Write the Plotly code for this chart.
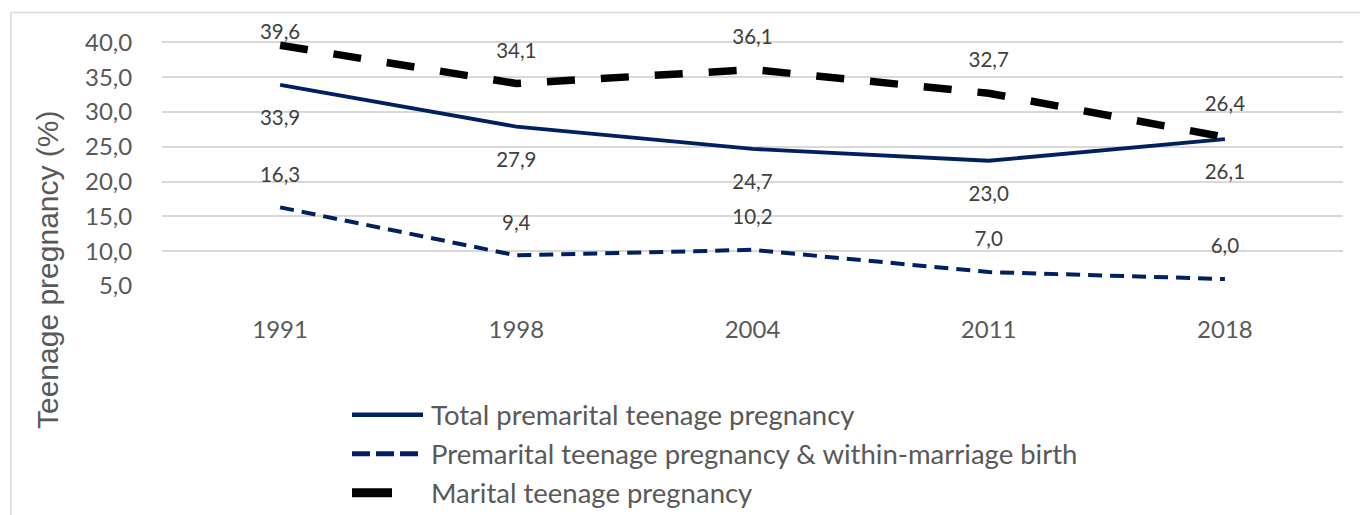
import plotly.graph_objects as go

years = ["1991", "1998", "2004", "2011", "2018"]
total_premarital = [33.9, 27.9, 24.7, 23.0, 26.1]
premarital_within = [16.3, 9.4, 10.2, 7.0, 6.0]
marital = [39.6, 34.1, 36.1, 32.7, 26.4]
y_ticks = [5, 10, 15, 20, 25, 30, 35, 40]

names = ["Total premarital teenage pregnancy",
         "Premarital teenage pregnancy & within-marriage birth",
         "Marital teenage pregnancy"]

NAVY = "#002060"
FONT = "Lato"

# plot area in pixels (gridline 40 at y=42, gridline 5 at y=286)
PX_PER_UNIT = 244 / 35.0
Y_MAX = 41.5  # a little headroom above the 40 gridline for the top data label
L, R, B = 162, 1343, 286
T = B - (Y_MAX - 5) * PX_PER_UNIT
W, H = R - L, B - T

def px_x(p):
    return (p - L) / W

def px_y(p):
    return (B - p) / H

styles = [
    dict(color=NAVY, width=3.8, dash="solid"),
    dict(color=NAVY, width=4, dash="14px,8px"),
    dict(color="black", width=7.5, dash="28px,26px"),
]
series_list = [total_premarital, premarital_within, marital]

fig = go.Figure()
for name, ys, st in zip(names, series_list, styles):
    fig.add_trace(go.Scatter(x=years, y=ys, mode="lines", name=name, line=st,
                             showlegend=False, hoverinfo="x+y+name"))

def fmt(v):
    return f"{v:.1f}".replace(".", ",")

label_specs = [(total_premarital, False), (premarital_within, True), (marital, True)]
for ys, above in label_specs:
    if above:
        yl = [min(v + 31 / PX_PER_UNIT, 40 + 9 / PX_PER_UNIT) for v in ys]
    else:
        yl = [v - 35 / PX_PER_UNIT for v in ys]
    fig.add_trace(go.Scatter(x=years, y=yl, mode="text", text=[fmt(v) for v in ys],
                             textposition="middle center", cliponaxis=False, showlegend=False,
                             hoverinfo="skip",
                             textfont=dict(family=FONT, size=20.5, color="#404040")))

annotations = [dict(x=px_x(47), y=px_y(270), xref="paper", yref="paper",
                    xanchor="center", yanchor="middle",
                    text="Teenage pregnancy (%)", textangle=-90, showarrow=False,
                    font=dict(family="Liberation Sans", size=30, color="#595959"))]

shapes = [dict(type="rect", xref="paper", yref="paper",
               x0=px_x(11), x1=px_x(1375), y0=px_y(540), y1=px_y(12),
               line=dict(color="#D9D9D9", width=1.5), fillcolor="rgba(0,0,0,0)", layer="below")]

# custom legend (long line samples as in the original)
legend_rows = [415, 454, 493]
sample_ends = [423, 421, 392]
sample_styles = [
    dict(color=NAVY, width=4.5, dash="solid"),
    dict(color=NAVY, width=5, dash="18px,6px"),
    dict(color="black", width=9, dash="solid"),
]
for name, yrow, xend, st in zip(names, legend_rows, sample_ends, sample_styles):
    shapes.append(dict(type="line", xref="paper", yref="paper",
                       x0=px_x(352), x1=px_x(xend), y0=px_y(yrow), y1=px_y(yrow), line=st))
    annotations.append(dict(x=px_x(429), y=px_y(yrow), xref="paper", yref="paper",
                            xanchor="left", yanchor="middle", text=name, showarrow=False,
                            font=dict(family=FONT, size=27.5, color="#595959")))

fig.update_layout(
    width=1360, height=515,
    margin=dict(l=L, r=1360 - R, t=T, b=515 - B, autoexpand=False),
    paper_bgcolor="white", plot_bgcolor="white",
    separators=",.",
    showlegend=False,
    annotations=annotations,
    shapes=shapes,
)
fig.update_xaxes(type="category", range=[-0.5, 4.5], showgrid=False, zeroline=False,
                 showline=False, ticks="outside", ticklen=22, tickcolor="rgba(0,0,0,0)",
                 tickfont=dict(family=FONT, size=24, color="#595959"))
fig.update_yaxes(range=[5, Y_MAX], tickvals=y_ticks, tickformat=".1f", showgrid=True,
                 gridcolor="#D9D9D9", gridwidth=1.5, zeroline=False, showline=False,
                 ticks="outside", ticklen=24, tickcolor="rgba(0,0,0,0)",
                 tickfont=dict(family=FONT, size=24, color="#595959"))

fig.write_html("out.html", config={"displayModeBar": False},
               post_script="document.body.style.margin='0';document.body.style.overflow='hidden';")
